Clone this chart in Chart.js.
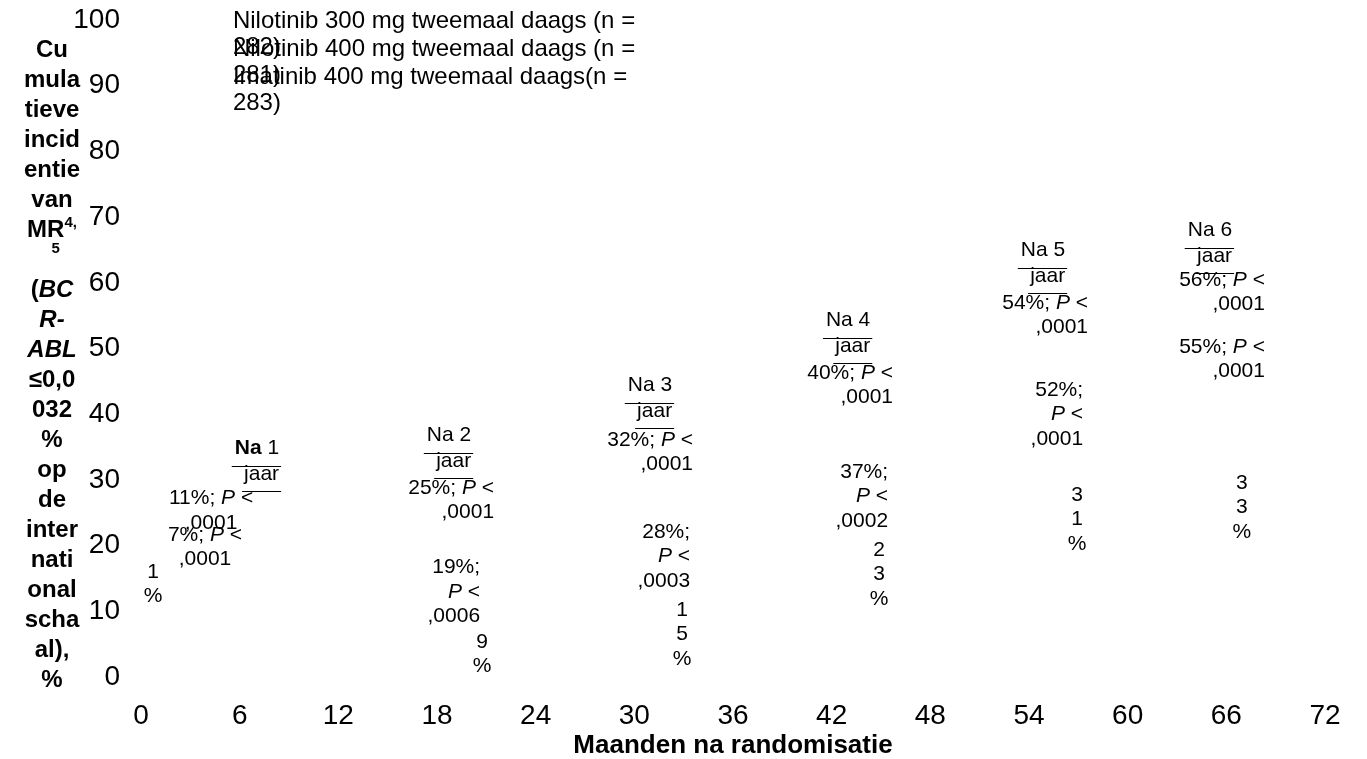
<!DOCTYPE html>
<html>
<head>
<meta charset="utf-8">
<script src="https://cdn.jsdelivr.net/npm/chart.js@4.4.1/dist/chart.umd.min.js"></script>
<style>
  html, body { margin: 0; padding: 0; background: #ffffff; }
  #wrap { width: 1367px; height: 759px; }
</style>
</head>
<body>
<div id="wrap"><canvas id="chart" width="1367" height="759"></canvas></div>
<script>
// ---- data ----
const monthTicks = [0, 6, 12, 18, 24, 30, 36, 42, 48, 54, 60, 66, 72];
const percentTicks = [0, 10, 20, 30, 40, 50, 60, 70, 80, 90, 100];
const seriesNames = [
  ['Nilotinib 300 mg tweemaal daags (n =', '282)'],
  ['Nilotinib 400 mg tweemaal daags (n =', '281)'],
  ['Imatinib 400 mg tweemaal daags(n =', '283)']
];
const yearNumbers = [1, 2, 3, 4, 5, 6];
const yearMonths = [12, 24, 36, 48, 60, 72];
const nilotinib300 = [11, 25, 32, 40, 54, 56];
const nilotinib400 = [7, 19, 28, 37, 52, 55];
const imatinib400 = [1, 9, 15, 23, 31, 33];
const pNilotinib300 = [',0001', ',0001', ',0001', ',0001', ',0001', ',0001'];
const pNilotinib400 = [',0001', ',0006', ',0003', ',0002', ',0001', ',0001'];

// label anchors in axis units [month, percent]
const headerAnchors = [[7.05, 34.9], [18.73, 36.8], [30.95, 44.4], [43.0, 54.3], [54.85, 65.0], [65.0, 68.0]];
const highAnchors   = [[4.26, 27.2], [21.47, 28.8], [33.57, 36.1], [45.73, 46.3], [57.59, 56.9], [68.35, 60.4]];
const midAnchors    = [[3.89, 21.6], [20.62, 16.7], [33.39, 22.1], [45.43, 31.2], [57.29, 43.7], [68.35, 50.2]];
const lowAnchors    = [[0.73, 16.0], [20.74, 5.3], [32.9, 10.2], [44.88, 19.3], [56.92, 27.7], [66.95, 29.5]];
const legendAnchor  = [5.59, 99.8];

// ---- styling ----
const FONT = '"Liberation Sans", Arial, Helvetica, sans-serif';
const ANN_SIZE = 21;
const ANN_LINE = 24.5;
const TITLE_SIZE = 24;

function fontFor(style, size) {
  return (style.includes('i') ? 'italic ' : '') + (style.includes('b') ? 'bold ' : '') + size + 'px ' + FONT;
}

// draws one line made of styled pieces; returns [left, right]
function drawRich(ctx, segs, x, y, align, size) {
  let total = 0;
  const widths = segs.map(s => { ctx.font = fontFor(s[1], size); const w = ctx.measureText(s[0]).width; total += w; return w; });
  let cx = align === 'center' ? x - total / 2 : align === 'right' ? x - total : x;
  const left = cx;
  ctx.textAlign = 'left';
  ctx.textBaseline = 'middle';
  segs.forEach((s, i) => { ctx.font = fontFor(s[1], size); ctx.fillText(s[0], cx, y); cx += widths[i]; });
  return [left, cx];
}

function pLine(pct) { return [[pct + '%; ', ''], ['P', 'i'], [' <', '']]; }

// y-axis title, one entry per line slot
const yTitleLines = [
  [['Cu', 'b']], [['mula', 'b']], [['tieve', 'b']], [['incid', 'b']], [['entie', 'b']], [['van', 'b']],
  'MR', [], [['(', 'b'], ['BC', 'bi']], [['R-', 'bi']], [['ABL', 'bi']], [['≤0,0', 'b']], [['032', 'b']],
  [['%', 'b']], [['op', 'b']], [['de', 'b']], [['inter', 'b']], [['nati', 'b']], [['onal', 'b']],
  [['scha', 'b']], [['al),', 'b']], [['%', 'b']]
];

const annotationPlugin = {
  id: 'mmrAnnotations',
  afterDraw(chart) {
    const ctx = chart.ctx;
    const xs = chart.scales.x, ys = chart.scales.y;
    const px = m => xs.getPixelForValue(m);
    const py = v => ys.getPixelForValue(v);
    ctx.save();
    ctx.fillStyle = '#000';
    ctx.strokeStyle = '#000';
    ctx.lineWidth = 1;

    // legend text
    const lx = px(legendAnchor[0]);
    const ly = py(legendAnchor[1]);
    seriesNames.forEach((lines, i) => {
      lines.forEach((t, j) => drawRich(ctx, [[t, '']], lx, ly + i * 28 + j * 26, 'left', 24));
    });

    // y-axis title
    const tx = 52;
    yTitleLines.forEach((line, i) => {
      const y = 50 + i * 30;
      if (line === 'MR') {
        ctx.font = fontFor('b', TITLE_SIZE);
        const wMR = ctx.measureText('MR').width;
        ctx.font = fontFor('b', 15);
        const wSup = ctx.measureText('4,').width;
        const left = tx - (wMR + wSup) / 2;
        drawRich(ctx, [['MR', 'b']], left, y, 'left', TITLE_SIZE);
        drawRich(ctx, [['4,', 'b']], left + wMR, y - 7, 'left', 15);
        ctx.font = fontFor('b', TITLE_SIZE);
        const wM = ctx.measureText('M').width;
        drawRich(ctx, [['5', 'b']], left + wM + (wMR - wM) / 2, y + 19, 'center', 15);
      } else if (line.length) {
        drawRich(ctx, line, tx, y, 'center', TITLE_SIZE);
      }
    });

    // per-year annotation blocks
    yearNumbers.forEach((yr, i) => {
      // header "Na n jaar" with its two leader strokes
      const hx = px(headerAnchors[i][0]), hy = py(headerAnchors[i][1]);
      const head = i === 0 ? [['Na', 'b'], [' ' + yr, '']] : [['Na ' + yr, '']];
      const [hl, hr] = drawRich(ctx, head, hx, hy, 'center', ANN_SIZE);
      const jy = hy + 26;
      const [jl] = drawRich(ctx, [['jaar', '']], hr, jy, 'right', ANN_SIZE);
      ctx.beginPath();
      ctx.moveTo(hl - 3, Math.round(jy - 8) + 0.5); ctx.lineTo(hr + 2, Math.round(jy - 8) + 0.5);
      ctx.moveTo(jl - 2, Math.round(jy + 17) + 0.5); ctx.lineTo(hr + 2, Math.round(jy + 17) + 0.5);
      ctx.stroke();

      const alignHM = i === 0 ? 'center' : 'right';

      // nilotinib 300 mg value
      const ax = px(highAnchors[i][0]), ay = py(highAnchors[i][1]);
      drawRich(ctx, pLine(nilotinib300[i]), ax, ay, alignHM, ANN_SIZE);
      drawRich(ctx, [[pNilotinib300[i], '']], ax, ay + ANN_LINE, alignHM, ANN_SIZE);

      // nilotinib 400 mg value
      const bx = px(midAnchors[i][0]), by = py(midAnchors[i][1]);
      const narrow = i >= 1 && i <= 4;
      const midLines = narrow
        ? [[[nilotinib400[i] + '%;', '']], [['P', 'i'], [' <', '']], [[pNilotinib400[i], '']]]
        : [pLine(nilotinib400[i]), [[pNilotinib400[i], '']]];
      midLines.forEach((segs, j) => drawRich(ctx, segs, bx, by + j * ANN_LINE, alignHM, ANN_SIZE));

      // imatinib value, stacked one character per line
      const cx = px(lowAnchors[i][0]), cy = py(lowAnchors[i][1]);
      const chars = String(imatinib400[i]).split('').concat(['%']);
      chars.forEach((c, j) => drawRich(ctx, [[c, '']], cx, cy + j * ANN_LINE, 'center', ANN_SIZE));
    });
    ctx.restore();
  }
};

const seriesData = [nilotinib300, nilotinib400, imatinib400];

new Chart(document.getElementById('chart'), {
  type: 'line',
  data: {
    datasets: seriesData.map((vals, k) => ({
      label: seriesNames[k].join(' '),
      data: yearMonths.map((m, i) => ({ x: m, y: vals[i] })),
      hidden: true
    }))
  },
  options: {
    responsive: false,
    animation: false,
    events: [],
    layout: { padding: { top: 20, right: 42, bottom: 0, left: 0 } },
    plugins: { legend: { display: false }, tooltip: { enabled: false } },
    scales: {
      x: {
        type: 'linear', min: 0, max: 72,
        afterBuildTicks: s => { s.ticks = monthTicks.map(v => ({ value: v })); },
        afterFit: s => { s.height = 82; s.paddingLeft = 0; s.paddingRight = 0; },
        grid: { display: false, drawTicks: false },
        border: { display: false },
        ticks: { color: '#000', font: { family: FONT, size: 28 }, padding: 22, maxRotation: 0, autoSkip: false },
        title: {
          display: true, text: 'Maanden na randomisatie', color: '#000',
          font: { family: FONT, size: 26, weight: 'bold', lineHeight: 1 },
          padding: { top: 0, bottom: 0 }
        }
      },
      y: {
        type: 'linear', min: 0, max: 100,
        afterBuildTicks: s => { s.ticks = percentTicks.map(v => ({ value: v })); },
        afterFit: s => { s.width = 141; s.paddingTop = 0; s.paddingBottom = 0; },
        grid: { display: false, drawTicks: false },
        border: { display: false },
        ticks: { color: '#000', font: { family: FONT, size: 28 }, padding: 21, autoSkip: false }
      }
    }
  },
  plugins: [annotationPlugin]
});
</script>
</body>
</html>
